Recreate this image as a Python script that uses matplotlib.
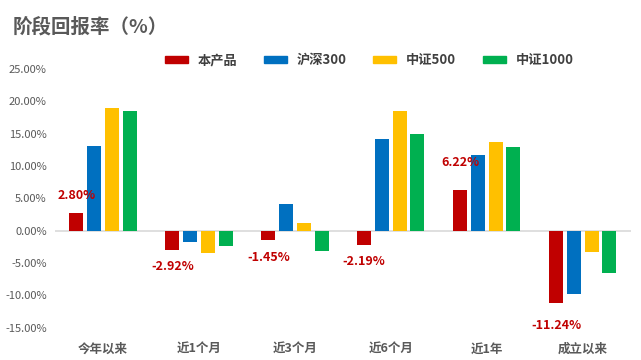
import numpy as np
import matplotlib
matplotlib.use("Agg")
import matplotlib.pyplot as plt
from matplotlib.patches import Patch

plt.rcParams['font.family'] = ['Noto Sans CJK SC', 'DejaVu Sans']

# datos
categorias = ['今年以来', '近1个月', '近3个月', '近6个月', '近1年', '成立以来']
series = ['本产品', '沪深300', '中证500', '中证1000']
producto = [2.80, -2.92, -1.45, -2.19, 6.22, -11.24]
hs300 = [13.1, -1.8, 4.2, 14.2, 11.7, -9.8]
zz500 = [19.0, -3.5, 1.2, 18.5, 13.7, -3.35]
zz1000 = [18.5, -2.3, -3.2, 15.0, 13.0, -6.6]
yticks = [-15, -10, -5, 0, 5, 10, 15, 20, 25]

colores = ['#C00000', '#0070C0', '#FFC000', '#00B050']
gris = '#595959'

fig = plt.figure(figsize=(6.41, 3.6), dpi=100)
ax = fig.add_axes([0.0858, 0.0897, 0.8982, 0.7186])

x = np.arange(len(categorias))
paso = 0.185
ancho = 0.146
valores = [producto, hs300, zz500, zz1000]
for i, (v, c) in enumerate(zip(valores, colores)):
    ax.bar(x + (i - 1.5) * paso, v, width=ancho, color=c, zorder=3)

# etiquetas solo para el producto
for i, v in enumerate(producto):
    dy = 17 if v >= 0 else -17
    if categorias[i] == '近1年':
        dy = 28
    if categorias[i] == '成立以来':
        dy = -22
    ax.annotate(f'{v:.2f}%', (x[i] - 1.5 * paso, v), xytext=(0, dy),
                textcoords='offset pixels',
                ha='center', va='center', color='#C00000',
                fontsize=9, fontweight='bold')

ax.axhline(0, color='#D9D9D9', lw=1.2, zorder=2)
ax.set_xlim(-0.5, 5.5)
ax.set_ylim(-15, 25)
ax.set_yticks(yticks)
ax.set_yticklabels([f'{t:.2f}%' for t in yticks], color=gris, fontsize=8)
ax.set_xticks(x)
ax.set_xticklabels(categorias, color=gris, fontsize=9, fontweight='bold')
ax.tick_params(axis='y', length=0, pad=6)
ax.tick_params(axis='x', length=0, pad=11)
for s in ax.spines.values():
    s.set_visible(False)

fig.text(0.019, 0.925, '阶段回报率（%）', fontsize=14, fontweight='bold',
         color=gris, va='center')

handles = [Patch(color=c, label=s) for s, c in zip(series, colores)]
leg = fig.legend(handles=handles, loc='center', bbox_to_anchor=(0.576, 0.833),
                 ncol=4, frameon=False, handlelength=1.75, handleheight=0.5,
                 handletextpad=0.75, columnspacing=2.0,
                 prop={'size': 9.5, 'weight': 'bold'})
for t in leg.get_texts():
    t.set_color('#404040')

fig.savefig('out.png', dpi=100)
